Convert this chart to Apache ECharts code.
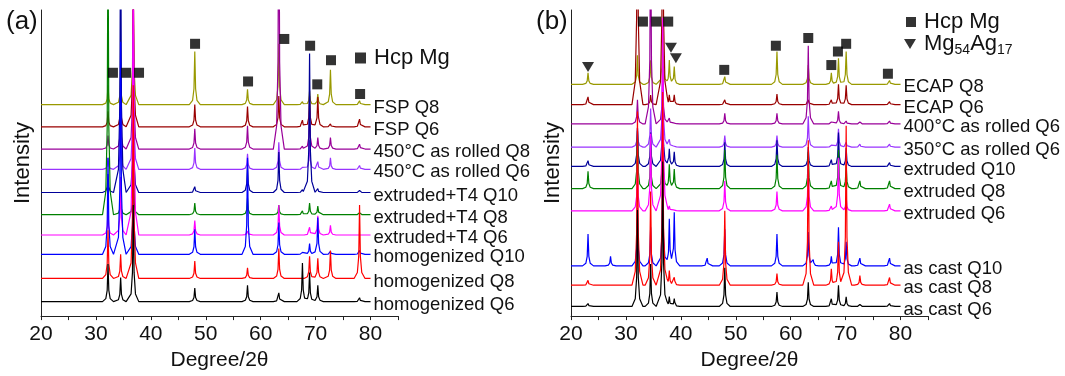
<!DOCTYPE html>
<html>
<head>
<meta charset="utf-8">
<script src="https://cdn.jsdelivr.net/npm/echarts@6/dist/echarts.min.js"></script>
<style>
  html, body { margin: 0; padding: 0; background: #fff; }
  #chart1 { width: 1065px; height: 376px; }
</style>
</head>
<body>
<div id="chart1"></div>
<script>
// ---- panel (a) ----
var peaksA = [32.2, 34.5, 36.8, 48.0, 57.6, 63.3, 67.6, 68.9, 70.4, 72.7, 78.0];
var namesA = ['FSP Q8', 'FSP Q6', '450°C as rolled Q8', '450°C as rolled Q6',
  'extruded+T4 Q10', 'extruded+T4 Q8', 'extruded+T4 Q6',
  'homogenized Q10', 'homogenized Q8', 'homogenized Q6'];
var baseA = [219, 196, 173, 152, 128, 105, 84, 64, 39, 15];
var heightsA = [
  [20, 30, 120, 55, 16, 63, 3, 14, 11, 36, 4],
  [16, 31, 150, 23, 21, 32, 7, 32, 31, 3, 8],
  [14, 40, 150, 21, 24, 300, 3, 40, 12, 12, 5],
  [12, 45, 140, 22, 16, 28, 2, 30, 8, 12, 4],
  [19, 300, 100, 6, 30, 42, 3, 144, 4, 0, 2],
  [300, 20, 40, 12, 17, 10, 4, 12, 9, 0, 2],
  [25, 60, 300, 15, 4, 31, 0, 8, 20, 10, 0],
  [100, 220, 100, 26, 100, 33, 2, 11, 38, 3, 4],
  [50, 25, 200, 18, 11, 31, 0, 23, 21, 29, 76],
  [39, 25, 100, 14, 17, 9, 40, 30, 17, 0, 4]
];
var hcpA = [[33.1, 252], [35.5, 252], [37.85, 252], [48.05, 282], [57.7, 243],
  [64.3, 287], [69.0, 280], [70.3, 240], [72.8, 265], [78.1, 230]];

// ---- panel (b) ----
var peaksB = [23.1, 27.2, 32.1, 34.5, 36.7, 37.9, 38.8, 44.8, 48.0, 57.5, 63.2, 64.1, 67.4, 68.7, 70.1, 72.6, 78.0];
var namesB = ['ECAP Q8', 'ECAP Q6', '400°C as rolled Q6', '350°C as rolled Q6',
  'extruded Q10', 'extruded Q8', 'extruded Q6',
  'as cast Q10', 'as cast Q8', 'as cast Q6'];
var baseB = [240, 219, 199, 175, 155, 132, 109, 52, 32, 10];
var heightsB = [
  [12, 0, 30, 25, 60, 25, 18, 0, 8, 34, 20, 0, 12, 27, 34, 0, 4],
  [8, 0, 300, 10, 300, 10, 10, 0, 5, 11, 5, 0, 5, 21, 20, 0, 3],
  [0, 0, 25, 220, 60, 6, 3, 0, 11, 11, 81, 0, 2, 13, 3, 2, 3],
  [0, 0, 20, 40, 100, 8, 3, 0, 12, 12, 32, 0, 2, 19, 5, 3, 3],
  [6, 0, 40, 35, 80, 18, 15, 0, 25, 27, 20, 0, 7, 35, 19, 0, 4],
  [18, 0, 60, 40, 60, 25, 20, 0, 40, 35, 38, 0, 8, 40, 25, 8, 8],
  [0, 0, 50, 80, 200, 5, 3, 0, 31, 20, 50, 0, 5, 55, 15, 0, 7],
  [33, 10, 60, 40, 100, 48, 55, 8, 38, 33, 35, 6, 10, 40, 25, 8, 8],
  [5, 0, 180, 97, 200, 15, 8, 0, 77, 12, 150, 0, 17, 45, 165, 10, 8],
  [3, 0, 100, 44, 150, 10, 8, 0, 40, 15, 25, 0, 8, 22, 10, 2, 3]
];
var hcpB = [[33.1, 305], [35.5, 305], [37.7, 305], [47.9, 255], [57.3, 280],
  [63.2, 288], [67.4, 260], [68.6, 274], [70.1, 282], [77.7, 251]];
var agB = [[23.1, 258], [38.2, 278], [39.1, 267]];

var colors = ['#999900', '#990000', '#990099', '#9933ff', '#000099',
  '#008000', '#ff00ff', '#0000ff', '#ff0000', '#000000'];

// peak outline (offset in degrees, fraction of peak height)
var shapeDx = [-1.0, -0.4, -0.15, 0, 0.15, 0.4, 1.0];
var shapeF = [0, 0.08, 0.3, 1, 0.3, 0.08, 0];

function shapeAt(dx) {
  if (dx <= shapeDx[0] || dx >= shapeDx[shapeDx.length - 1]) return 0;
  for (var k = 1; k < shapeDx.length; k++) {
    if (dx <= shapeDx[k]) {
      var t = (dx - shapeDx[k - 1]) / (shapeDx[k] - shapeDx[k - 1]);
      return shapeF[k - 1] + t * (shapeF[k] - shapeF[k - 1]);
    }
  }
  return 0;
}

// trace from 20 to 80 deg, vertices at the peak outline points
function trace(peaks, heights, base) {
  var xs = [20, 80];
  peaks.forEach(function (p, i) {
    if (!heights[i]) return;
    shapeDx.forEach(function (d) { xs.push(+(p + d).toFixed(3)); });
  });
  xs.sort(function (a, b) { return a - b; });
  return xs.map(function (x) {
    var y = base;
    peaks.forEach(function (p, i) { if (heights[i]) y += heights[i] * shapeAt(x - p); });
    return [x, y];
  });
}

var chartDom = document.getElementById('chart1');
var myChart = echarts.init(chartDom);
var option;

var series = [];
[[namesA, baseA, heightsA, peaksA, 0], [namesB, baseB, heightsB, peaksB, 1]].forEach(function (p) {
  p[0].forEach(function (name, i) {
    series.push({
      type: 'line',
      name: name,
      xAxisIndex: p[4],
      yAxisIndex: p[4],
      data: trace(p[3], p[2][i], p[1][i]),
      showSymbol: false,
      symbol: 'none',
      lineStyle: { width: 1.2, color: colors[i] },
      itemStyle: { color: colors[i] },
      endLabel: {
        show: true, distance: 3, offset: [0, 3], fontSize: 18.5, color: '#111',
        formatter: '{t|{a}}',
        rich: { t: { fontSize: 18.5, color: '#111' } }
      },
      z: 2
    });
  });
});
series.push(
  { type: 'scatter', name: 'Hcp Mg', xAxisIndex: 0, yAxisIndex: 0, data: hcpA,
    symbol: 'rect', symbolSize: 10, itemStyle: { color: '#000' }, z: 5 },
  { type: 'scatter', name: 'Hcp Mg ', xAxisIndex: 1, yAxisIndex: 1, data: hcpB,
    symbol: 'rect', symbolSize: 10, itemStyle: { color: '#000' }, z: 5 },
  { type: 'scatter', name: 'Mg54Ag17', xAxisIndex: 1, yAxisIndex: 1, data: agB,
    symbol: 'triangle', symbolRotate: 180, symbolSize: [12, 10], itemStyle: { color: '#000' }, z: 5 }
);

function xAx(gi) {
  return {
    type: 'value', gridIndex: gi, min: 20, max: 85, interval: 5,
    axisLine: { lineStyle: { color: '#222', width: 1 } },
    axisTick: { length: 4, lineStyle: { color: '#222' } },
    axisLabel: { fontSize: 21, color: '#111', margin: 8,
      formatter: function (v) { return (v % 10 === 0 && v <= 80) ? v : ''; } },
    splitLine: { show: false },
    name: 'Degree/2θ', nameLocation: 'middle', nameGap: 28,
    nameTextStyle: { fontSize: 21, color: '#111' }
  };
}
function yAx(gi) {
  return {
    type: 'value', gridIndex: gi, min: 0, max: 317,
    axisLine: { show: true, lineStyle: { color: '#222', width: 1 } },
    axisTick: { show: false }, axisLabel: { show: false }, splitLine: { show: false },
    name: 'Intensity', nameLocation: 'middle', nameGap: 7,
    nameTextStyle: { fontSize: 22, color: '#111' }
  };
}

var legText = { fontSize: 22, color: '#111', padding: [0, 0, 0, 3] };

option = {
  animation: false,
  textStyle: { fontFamily: 'Liberation Sans, Arial, sans-serif' },
  title: [
    { text: '(a)', left: 6, top: 9, padding: 0, textStyle: { fontSize: 26, fontWeight: 'normal', color: '#111' } },
    { text: '(b)', left: 536, top: 9, padding: 0, textStyle: { fontSize: 26, fontWeight: 'normal', color: '#111' } }
  ],
  legend: [
    { data: ['Hcp Mg'], left: 355, top: 47, padding: 0, itemWidth: 11, itemHeight: 11,
      selectedMode: false, textStyle: legText },
    { data: ['Hcp Mg '], left: 906, top: 11, padding: 0, itemWidth: 10, itemHeight: 10,
      selectedMode: false, textStyle: legText },
    { data: [{ name: 'Mg54Ag17', icon: 'path://M0,0L12,0L6,10Z' }], left: 904, top: 33, padding: 0,
      itemWidth: 12, itemHeight: 10, selectedMode: false,
      formatter: function () { return '{n|Mg}{s|54}{n|Ag}{s|17}'; },
      textStyle: { color: '#111', padding: [0, 0, 0, 3],
        rich: { n: { fontSize: 22, color: '#111' },
                s: { fontSize: 14, color: '#111', padding: [12, 0, 0, 0] } } } }
  ],
  grid: [
    { left: 41, top: 10, width: 357, height: 317 },
    { left: 571, top: 10, width: 357, height: 317 }
  ],
  xAxis: [xAx(0), xAx(1)],
  yAxis: [yAx(0), yAx(1)],
  series: series
};

option && myChart.setOption(option);
window.onresize = function () {
  myChart.resize();
};
</script>
</body>
</html>
